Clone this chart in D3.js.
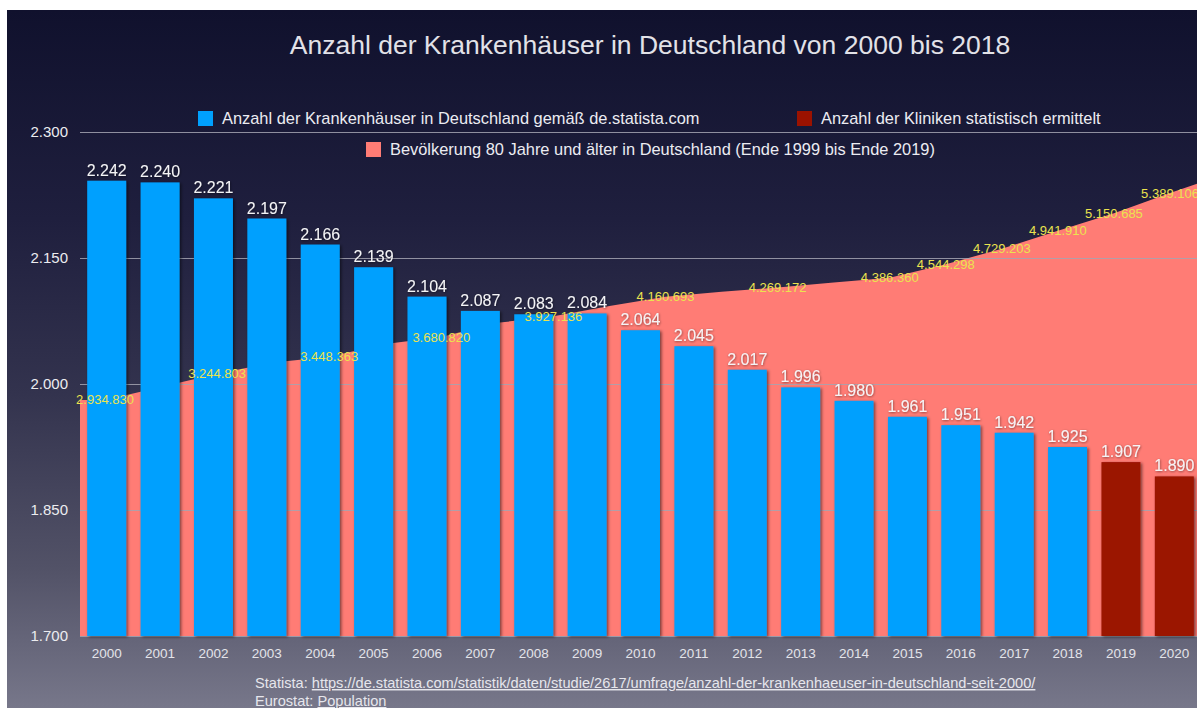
<!DOCTYPE html>
<html>
<head>
<meta charset="utf-8">
<script src="https://cdn.jsdelivr.net/npm/d3@7"></script>
<style>
  html, body { margin: 0; padding: 0; background: #ffffff; }
  svg { display: block; }
  text { font-family: "Liberation Sans", Arial, Helvetica, sans-serif; }
</style>
</head>
<body>
<svg id="chart" width="1197" height="708"></svg>
<script>
// ---------- data ----------
const years = ["2000","2001","2002","2003","2004","2005","2006","2007","2008","2009","2010",
               "2011","2012","2013","2014","2015","2016","2017","2018","2019","2020"];
const hospitals = [2242, 2240, 2221, 2197, 2166, 2139, 2104, 2087, 2083, 2084, 2064,
                   2045, 2017, 1996, 1980, 1961, 1951, 1942, 1925, null, null];
const clinicsEstimated = [null, null, null, null, null, null, null, null, null, null, null,
                          null, null, null, null, null, null, null, null, 1907, 1890];
// population 80+ (end 1999 .. end 2019)
const population80 = [2934830, 3090000, 3244803, 3380000, 3448363, 3600000, 3680820, 3850000,
                      3927136, 4050000, 4160693, 4220000, 4269172, 4330000, 4386360, 4544298,
                      4729203, 4941910, 5150685, 5389106, 5620000];
const populationLabelled = [0, 2, 4, 6, 8, 10, 12, 14, 15, 16, 17, 18, 19];
const yTicks = [1700, 1850, 2000, 2150, 2300];

const title = "Anzahl der Krankenhäuser in Deutschland von 2000 bis 2018";
const legendHospitals = "Anzahl der Krankenhäuser in Deutschland gemäß de.statista.com";
const legendClinics = "Anzahl der Kliniken statistisch ermittelt";
const legendPopulation = "Bevölkerung 80 Jahre und älter in Deutschland (Ende 1999 bis Ende 2019)";
const sourceLabel1 = "Statista: ";
const sourceUrl = "https://de.statista.com/statistik/daten/studie/2617/umfrage/anzahl-der-krankenhaeuser-in-deutschland-seit-2000/";
const sourceLabel2 = "Eurostat: ";
const sourceLink2 = "Population";

// ---------- colours ----------
const cBlue = "#00a0fe", cDarkRed = "#9b1200", cPink = "#ff7c75", cYellow = "#ebe34e";

const de = d3.formatLocale({decimal: ",", thousands: ".", grouping: [3], currency: ["", "€"]});
const fmt = de.format(",d");

const svg = d3.select("#chart");
const W = 1197, H = 708;

// background
const defs = svg.append("defs");
const grad = defs.append("linearGradient").attr("id", "bg").attr("x1", 0).attr("y1", 0).attr("x2", 0).attr("y2", 1);
[[0, "#10112d"], [0.3, "#1f1f3e"], [0.55, "#33334e"], [0.8, "#525267"], [1, "#77778a"]]
  .forEach(([o, c]) => grad.append("stop").attr("offset", o).attr("stop-color", c));
const shadow = defs.append("filter").attr("id", "shadow").attr("x", "-20%").attr("y", "-5%").attr("width", "140%").attr("height", "110%");
shadow.append("feDropShadow").attr("dx", 1.5).attr("dy", 1).attr("stdDeviation", 1.6)
  .attr("flood-color", "#000").attr("flood-opacity", 0.55);
const tshadow = defs.append("filter").attr("id", "tshadow");
tshadow.append("feDropShadow").attr("dx", 0.5).attr("dy", 0.8).attr("stdDeviation", 0.8)
  .attr("flood-color", "#000").attr("flood-opacity", 0.5);

svg.append("rect").attr("x", 7).attr("y", 10).attr("width", W - 7).attr("height", H - 10).attr("fill", "url(#bg)");

// ---------- scales ----------
const plotLeft = 80, plotRight = 1197;
const x = d3.scaleBand().domain(years).range([80, 1201]).paddingInner(0.27).paddingOuter(0.135);
const y = d3.scaleLinear().domain([1700, 2300]).range([636, 132]);
const xPop = d3.scaleLinear().domain([0, 19]).range([105, 1170]);
const yPop = d3.scaleLinear().domain([0, 6000000]).range([647.4, 141.6]);

defs.append("clipPath").attr("id", "plotclip").append("rect")
  .attr("x", plotLeft).attr("y", 0).attr("width", plotRight - plotLeft).attr("height", y(1700));

// ---------- population area ----------
const areaPts = [{x: plotLeft, v: population80[0]}]
  .concat(population80.map((v, i) => ({x: xPop(i), v})));
svg.append("path")
  .attr("clip-path", "url(#plotclip)")
  .attr("d", d3.area().x(d => d.x).y0(y(1700)).y1(d => yPop(d.v))(areaPts))
  .attr("fill", cPink);

// ---------- grid + y axis ----------
const yAxis = svg.append("g").attr("transform", `translate(${plotLeft},0)`)
  .call(d3.axisLeft(y).tickValues(yTicks).tickSize(-(plotRight - plotLeft)).tickPadding(12)
        .tickFormat(d => fmt(d)));
yAxis.select(".domain").remove();
yAxis.selectAll(".tick line").attr("stroke", "#a4a4b2").attr("stroke-width", 1).attr("opacity", 0.85);
yAxis.selectAll(".tick text").attr("fill", "#ececf0").attr("font-size", 15)
  .attr("font-family", "Liberation Sans, Arial, sans-serif").attr("x", -12);

// ---------- bars ----------
const barG = svg.append("g").attr("filter", "url(#shadow)");
barG.selectAll("rect.h").data(years.filter((yr, i) => hospitals[i] != null)).enter().append("rect")
  .attr("x", d => x(d)).attr("width", x.bandwidth())
  .attr("y", d => y(hospitals[years.indexOf(d)]))
  .attr("height", d => y(1700) - y(hospitals[years.indexOf(d)]))
  .attr("fill", cBlue);
barG.selectAll("rect.c").data(years.filter((yr, i) => clinicsEstimated[i] != null)).enter().append("rect")
  .attr("x", d => x(d)).attr("width", x.bandwidth())
  .attr("y", d => y(clinicsEstimated[years.indexOf(d)]))
  .attr("height", d => y(1700) - y(clinicsEstimated[years.indexOf(d)]))
  .attr("fill", cDarkRed);

// bar value labels
const barVals = years.map((yr, i) => ({yr, v: hospitals[i] != null ? hospitals[i] : clinicsEstimated[i]}));
svg.append("g").attr("filter", "url(#tshadow)").selectAll("text").data(barVals).enter().append("text")
  .attr("x", d => x(d.yr) + x.bandwidth() / 2)
  .attr("y", d => y(d.v) - 5)
  .attr("text-anchor", "middle").attr("font-size", 16).attr("fill", "#f4f4f6")
  .text(d => fmt(d.v));

// x axis labels
const xAxis = svg.append("g").attr("transform", `translate(0,${y(1700)})`)
  .call(d3.axisBottom(x).tickSize(0).tickPadding(12));
xAxis.select(".domain").remove();
xAxis.selectAll(".tick text").attr("fill", "#e4e4ea").attr("font-size", 13.5)
  .attr("font-family", "Liberation Sans, Arial, sans-serif");

// population labels
svg.append("g").selectAll("text").data(populationLabelled).enter().append("text")
  .attr("x", i => xPop(i)).attr("y", i => yPop(population80[i]) + 4.5)
  .attr("text-anchor", "middle").attr("font-size", 13).attr("fill", cYellow)
  .text(i => fmt(population80[i]));

// ---------- title ----------
svg.append("text").attr("x", 650).attr("y", 54).attr("text-anchor", "middle")
  .attr("font-size", 26.5).attr("fill", "#e2e2e8").text(title);

// ---------- legend ----------
const legend = [
  {label: legendHospitals, color: cBlue, x: 198, y: 111},
  {label: legendClinics, color: cDarkRed, x: 797, y: 111},
  {label: legendPopulation, color: cPink, x: 366, y: 142}
];
const lg = svg.append("g").selectAll("g").data(legend).enter().append("g")
  .attr("transform", d => `translate(${d.x},${d.y})`);
lg.append("rect").attr("width", 15).attr("height", 15).attr("fill", d => d.color);
lg.append("text").attr("x", 24).attr("y", 13).attr("font-size", 16.4).attr("fill", "#ececf2").text(d => d.label);

// ---------- source ----------
const src = svg.append("g").attr("font-size", 14.6).attr("fill", "#e6e6ec");
const t1 = src.append("text").attr("x", 255).attr("y", 688);
t1.append("tspan").text(sourceLabel1);
t1.append("tspan").attr("text-decoration", "underline").text(sourceUrl);
const t2 = src.append("text").attr("x", 255).attr("y", 706);
t2.append("tspan").text(sourceLabel2);
t2.append("tspan").attr("text-decoration", "underline").text(sourceLink2);
</script>
</body>
</html>
